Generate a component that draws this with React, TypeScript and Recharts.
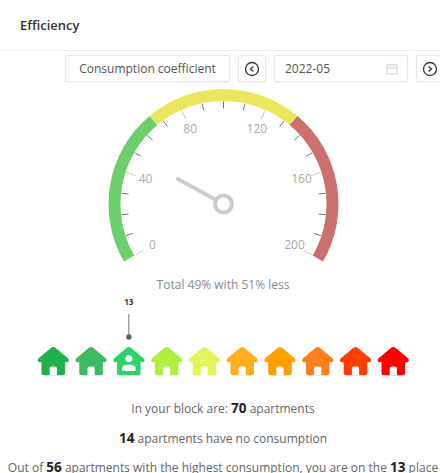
import React from "react";
import { RadialBarChart, RadialBar, PolarAngleAxis, ScatterChart, Scatter, XAxis, YAxis } from "recharts";

const bandSizes = [66.67, 66.66, 66.67];
const bandColors = ["#6ccf6c", "#eae75e", "#ce6f6f"];
const gaugeTicks = [0, 10, 20, 30, 40, 50, 60, 70, 80, 90, 100, 110, 120, 130, 140, 150, 160, 170, 180, 190, 200];
const labelledTicks = [0, 40, 80, 120, 160, 200];
const gaugeValue = 49;

const houseRanks = [1, 2, 3, 4, 5, 6, 7, 8, 9, 10];
const houseColors = ["#20b04c", "#3cbb63", "#2dd36a", "#aef03f", "#e4f55c", "#ffae1f", "#ff9f00", "#ff7f1f", "#ff3f00", "#ff0000"];
const markedHouse = 3;
const markedLabel = "13";

const FONT = "'Open Sans', sans-serif";
const CX = 223.5;
const CY = 204;

const bandRow = [{ band0: bandSizes[0], band1: bandSizes[1], band2: bandSizes[2] }];
const needleRow = [{ needle: gaugeValue }];
const houseRows = houseRanks.map((rank) => ({ rank, level: 0 }));

function GaugeTick({ x, y, payload }: any) {
  const dx = x - CX;
  const dy = y - CY;
  const len = Math.hypot(dx, dy);
  const ux = dx / len;
  const uy = dy / len;
  const major = labelledTicks.includes(payload.value);
  const r1 = 102.5;
  const r2 = major ? 92.5 : 95.5;
  return (
    <g>
      <line x1={CX + ux * r1} y1={CY + uy * r1} x2={CX + ux * r2} y2={CY + uy * r2} stroke={major ? "#c8c8c8" : "#5b7d9c"} strokeWidth={1} />
      {major && (
        <text x={CX + ux * 82} y={CY + uy * 82 - 0.5} textAnchor="middle" dominantBaseline="central" fontSize={12} fontFamily={FONT} fill="#aaaaaa">
          {payload.value}
        </text>
      )}
    </g>
  );
}

function Needle({ cx, cy, endAngle }: any) {
  const a = (endAngle * Math.PI) / 180;
  const tipX = cx + 52 * Math.cos(a);
  const tipY = cy - 52 * Math.sin(a);
  const baseX = cx + 8.5 * Math.cos(a);
  const baseY = cy - 8.5 * Math.sin(a);
  return (
    <g>
      <line x1={baseX} y1={baseY} x2={tipX} y2={tipY} stroke="#cccccc" strokeWidth={4} strokeLinecap="round" />
      <circle cx={cx} cy={cy} r={8.5} fill="#fff" stroke="#cccccc" strokeWidth={4} />
    </g>
  );
}

function House({ cx, cy, payload }: any) {
  const color = houseColors[payload.rank - 1];
  const marked = payload.rank === markedHouse;
  return (
    <g transform={`translate(${cx},${cy})`}>
      {marked && (
        <g>
          <text x={0} y={-56} textAnchor="middle" fontSize={8} fontWeight={700} fontFamily={FONT} fill="#333">
            {markedLabel}
          </text>
          <line x1={0} y1={-47} x2={0} y2={-24} stroke="#777" strokeWidth={1} />
          <circle cx={0} cy={-24} r={2.7} fill="#5f5f66" />
        </g>
      )}
      <path
        d="M-1.8 -13.5 Q0 -14.6 1.8 -13.5 L15 -2.4 Q16.6 0.8 14 1.2 L11.8 1.2 L11.8 12 Q11.8 14.2 9.4 14.2 L-9.4 14.2 Q-11.8 14.2 -11.8 12 L-11.8 1.2 L-14 1.2 Q-16.6 0.8 -15 -2.4 Z"
        fill={color}
      />
      {marked ? (
        <g fill="#fff">
          <circle cx={0} cy={-2.6} r={3.5} />
          <path d="M-6.8 10 L-6.8 7.4 Q-6.8 3.4 0 3.4 Q6.8 3.4 6.8 7.4 L6.8 10 Z" />
        </g>
      ) : (
        <path d="M-3.6 14.2 L-3.6 7.6 Q-3.6 5.6 -1.6 5.6 L1.6 5.6 Q3.6 5.6 3.6 7.6 L3.6 14.2 Z" fill="#fff" />
      )}
    </g>
  );
}

const boxStyle: React.CSSProperties = {
  position: "absolute",
  top: 55,
  height: 27,
  boxSizing: "border-box",
  border: "1px solid #e8e8e8",
  borderRadius: 2,
  background: "#fff",
  boxShadow: "0 1px 2px rgba(0,0,0,0.05)",
  color: "#555",
  fontSize: 12,
  lineHeight: "25px",
};

const lineStyle: React.CSSProperties = {
  position: "absolute",
  left: 0,
  width: 446,
  textAlign: "center",
  color: "#666",
  fontSize: 12,
  whiteSpace: "nowrap",
  lineHeight: "18px",
};

const strong: React.CSSProperties = { color: "#222", fontWeight: 700, fontSize: 13.5 };

function CircleArrow({ dir }: { dir: "left" | "right" }) {
  const d = dir === "left" ? "M9.5 5.5 L6.5 8 L9.5 10.5" : "M6.5 5.5 L9.5 8 L6.5 10.5";
  return (
    <svg width={16} height={16} style={{ position: "absolute", left: 5, top: 5 }}>
      <circle cx={8} cy={8} r={6.5} fill="none" stroke="#333" strokeWidth={1.3} />
      <path d={d} fill="none" stroke="#333" strokeWidth={1.3} />
    </svg>
  );
}

export default function App() {
  return (
    <div style={{ position: "absolute", left: 0, top: 0, width: 440, height: 473, overflow: "hidden", background: "#fff", fontFamily: FONT }}>
      <div style={{ position: "absolute", left: 20, top: 15, fontSize: 13, fontWeight: 600, color: "#333", lineHeight: "20px" }}>Efficiency</div>
      <div style={{ position: "absolute", left: 0, top: 50, width: 440, height: 1, background: "#eeeeee" }} />

      <div style={{ ...boxStyle, left: 65, width: 165, textAlign: "center" }}>Consumption coefficient</div>
      <div style={{ ...boxStyle, left: 238, width: 28 }}>
        <CircleArrow dir="left" />
      </div>
      <div style={{ ...boxStyle, left: 274, width: 134, paddingLeft: 10 }}>
        2022-05
        <svg width={12} height={12} style={{ position: "absolute", left: 111, top: 7 }}>
          <rect x={1} y={2} width={10} height={9} fill="none" stroke="#cfcfcf" />
          <path d="M1 5 H11 M3.5 0.5 V2.5 M8.5 0.5 V2.5" stroke="#cfcfcf" fill="none" />
        </svg>
      </div>
      <div style={{ ...boxStyle, left: 416, width: 34 }}>
        <CircleArrow dir="right" />
      </div>

      <div style={{ position: "absolute", left: 0, top: 0 }}>
        <RadialBarChart width={440} height={300} cx={CX} cy={CY} innerRadius={103} outerRadius={115} startAngle={210} endAngle={-30} data={bandRow} barCategoryGap={0} margin={{ top: 0, right: 0, bottom: 0, left: 0 }}>
          <PolarAngleAxis type="number" domain={[0, 200]} ticks={gaugeTicks} axisLine={false} tickLine={false} tick={GaugeTick} />
          {bandSizes.map((_, i) => (
            <RadialBar key={i} dataKey={`band${i}`} stackId="gauge" fill={bandColors[i]} isAnimationActive={false} />
          ))}
        </RadialBarChart>
      </div>
      <div style={{ position: "absolute", left: 0, top: 0 }}>
        <RadialBarChart width={440} height={300} cx={CX} cy={CY} innerRadius={103} outerRadius={115} startAngle={210} endAngle={-30} data={needleRow} barCategoryGap={0} margin={{ top: 0, right: 0, bottom: 0, left: 0 }}>
          <PolarAngleAxis type="number" domain={[0, 200]} tick={false} axisLine={false} tickLine={false} />
          <RadialBar dataKey="needle" shape={Needle} isAnimationActive={false} />
        </RadialBarChart>
      </div>

      <div style={{ ...lineStyle, top: 276, color: "#888c94" }}>Total {gaugeValue}% with {100 - gaugeValue}% less</div>

      <div style={{ position: "absolute", left: 0, top: 290 }}>
        <ScatterChart width={440} height={100} margin={{ top: 0, right: 46.7, bottom: 0, left: 53.3 }}>
          <XAxis type="number" dataKey="rank" domain={[1, 10]} hide />
          <YAxis type="number" dataKey="level" domain={[-29, 71]} hide />
          <Scatter data={houseRows} shape={House} isAnimationActive={false} />
        </ScatterChart>
      </div>

      <div style={{ ...lineStyle, top: 399 }}>
        In your block are: <span style={strong}>70</span> apartments
      </div>
      <div style={{ ...lineStyle, top: 429 }}>
        <span style={strong}>14</span> apartments have no consumption
      </div>
      <div style={{ ...lineStyle, top: 458 }}>
        Out of <span style={strong}>56</span> apartments with the highest consumption, you are on the <span style={strong}>13</span> place
      </div>
    </div>
  );
}
